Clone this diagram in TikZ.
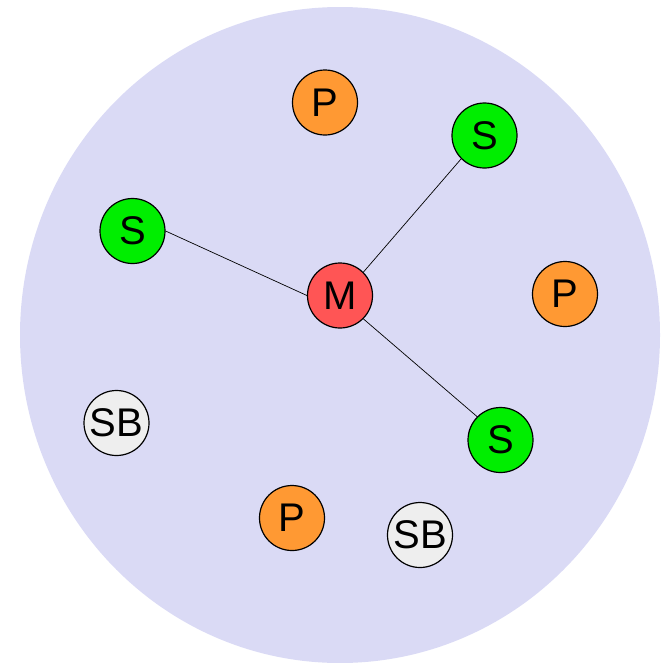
\documentclass[tikz,border=0pt]{standalone}
\usepackage{fontspec}
\setmainfont{Liberation Sans}
\definecolor{bgc}{HTML}{DADAF5}
\definecolor{mred}{HTML}{FF5555}
\definecolor{sgreen}{HTML}{00EE00}
\definecolor{porange}{HTML}{FF9933}
\definecolor{sbgray}{HTML}{EEEEEE}
\begin{document}
\begin{tikzpicture}[x=1pt,y=-1pt,
  agent/.style={circle,draw=black,line width=1.2pt,minimum size=65pt,inner sep=0pt,font=\fontsize{40}{40}\selectfont},
  link/.style={draw=black,line width=0.7pt}]
\useasboundingbox (0,0) rectangle (663,662);
\fill[bgc] (340,335) ellipse [x radius=320, y radius=328];
\node[agent,fill=mred] (m) at (340,295.5) {M};
\node[agent,fill=porange] (p1) at (325,102.5) {P};
\node[agent,fill=sgreen] (s1) at (484.5,135.5) {S};
\node[agent,fill=sgreen] (s2) at (132.5,231) {S};
\node[agent,fill=porange] (p2) at (565,294) {P};
\node[agent,fill=sbgray] (sb1) at (116.5,423) {SB};
\node[agent,fill=sgreen] (s3) at (500.5,440) {S};
\node[agent,fill=porange] (p3) at (292,518) {P};
\node[agent,fill=sbgray] (sb2) at (420,535) {SB};
\draw[link] (m.north east) -- (s1.south west);
\draw[link] (m.west) -- (s2.east);
\draw[link] (m.south east) -- (s3.north west);
\end{tikzpicture}
\end{document}
